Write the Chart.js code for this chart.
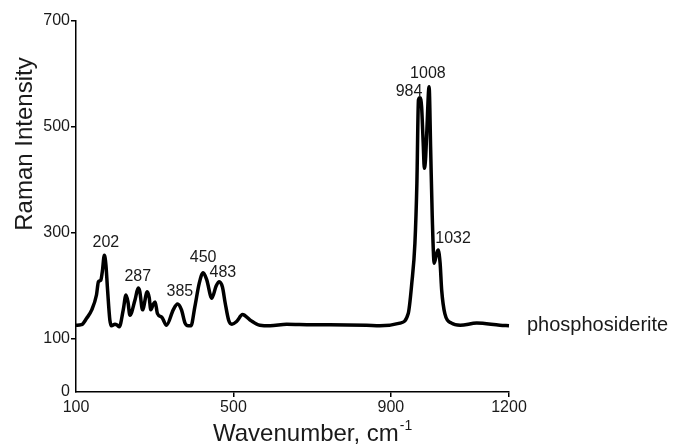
<!DOCTYPE html>
<html>
<head>
<meta charset="utf-8">
<script src="https://cdn.jsdelivr.net/npm/chart.js"></script>
<style>
  html, body { margin: 0; padding: 0; background: #fff; }
  #wrap { width: 675px; height: 444px; position: relative; }
</style>
</head>
<body>
<div id="wrap"><canvas id="spectrum"></canvas></div>
<script>
// Raman spectrum of phosphosiderite
var wavenumbers = [100, 114, 127, 140, 152, 157, 163, 167, 172, 176, 180, 186, 190, 199, 205, 210,
  220, 227, 232, 237, 250, 258, 262, 269, 281, 286, 290, 296, 301, 307, 318, 330, 347, 358, 368,
  377, 385, 392, 402, 413, 423, 432, 445, 456, 464, 472, 479, 488, 496, 508, 523, 542, 567, 593,
  635, 700, 745, 838, 872, 923, 944, 953, 961, 966, 970, 974, 978, 982, 985, 988, 991, 997, 1001,
  1005, 1010, 1016, 1020, 1025, 1029, 1037, 1054, 1076, 1118, 1177, 1200];
var intensities = [126, 127, 139, 155, 183, 208, 211, 228, 258, 240, 195, 136, 125, 128, 126, 123,
  155, 183, 170, 145, 174, 196, 190, 155, 189, 178, 155, 165, 170, 148, 141, 126, 155, 166, 155,
  130, 125, 125, 161, 205, 225, 212, 177, 200, 208, 198, 168, 135, 128, 133, 146, 136, 126, 125,
  128, 127, 127, 126, 125, 130, 148, 205, 281, 394, 551, 555, 538, 470, 422, 440, 488, 576, 457,
  331, 243, 261, 268, 243, 192, 148, 130, 126, 130, 126, 125];

var seriesName = 'phosphosiderite';

// peak annotations (text, and where it sits in data units)
var peakTexts = ['202', '287', '385', '450', '483', '984', '1008', '1032'];
var peakTextX = [176, 257, 364, 423, 473, 946, 994, 1058];
var peakTextY = [281, 217, 189, 253, 225, 566, 600, 289];

var xTicks = [100, 500, 900, 1200];
var yTicks = [0, 100, 300, 500, 700];

var FONT = "'Liberation Sans', Arial, sans-serif";

var points = wavenumbers.map(function(w, i) { return { x: w, y: intensities[i] }; });

var annotate = {
  id: 'annotate',
  afterDraw: function(chart) {
    var ctx = chart.ctx;
    var xs = chart.scales.x, ys = chart.scales.y;
    var area = chart.chartArea;
    ctx.save();
    ctx.fillStyle = '#1a1a1a';

    // peak labels
    ctx.font = '16px ' + FONT;
    ctx.textAlign = 'center';
    ctx.textBaseline = 'middle';
    peakTexts.forEach(function(t, i) {
      ctx.fillText(t, xs.getPixelForValue(peakTextX[i]), ys.getPixelForValue(peakTextY[i]));
    });

    // series name at the end of the trace
    ctx.font = '20px ' + FONT;
    ctx.textAlign = 'left';
    ctx.fillText(seriesName, area.right + 18, ys.getPixelForValue(intensities[intensities.length - 1]));

    // y title
    ctx.save();
    ctx.translate(32, 144);
    ctx.rotate(-Math.PI / 2);
    ctx.font = '24px ' + FONT;
    ctx.textAlign = 'center';
    ctx.textBaseline = 'alphabetic';
    ctx.fillText('Raman Intensity', 0, 0);
    ctx.restore();

    // x title with superscript
    ctx.font = '24px ' + FONT;
    ctx.textAlign = 'left';
    ctx.textBaseline = 'alphabetic';
    var main = 'Wavenumber, cm';
    var x0 = 213, base = 441;
    ctx.fillText(main, x0, base);
    var w = ctx.measureText(main).width;
    ctx.font = '14px ' + FONT;
    ctx.fillText('-1', x0 + w + 1, base - 11);
    ctx.restore();
  }
};

function plain(v) { return String(v); }

new Chart(document.getElementById('spectrum'), {
  type: 'scatter',
  data: {
    datasets: [{
      label: seriesName,
      data: points,
      showLine: true,
      borderColor: '#000',
      borderWidth: 3.5,
      pointRadius: 0,
      tension: 0.4,
      cubicInterpolationMode: 'monotone',
      clip: false
    }]
  },
  options: {
    responsive: true,
    maintainAspectRatio: false,
    animation: false,
    layout: { padding: { left: 0, top: 21, right: 166, bottom: 0 } },
    plugins: {
      legend: { display: false },
      tooltip: { enabled: false }
    },
    scales: {
      x: {
        type: 'linear',
        min: 100,
        max: 1200,
        afterBuildTicks: function(axis) { axis.ticks = xTicks.map(function(v) { return { value: v }; }); },
        afterFit: function(axis) { axis.height = 52; },
        border: { display: true, color: '#000', width: 1.5 },
        grid: {
          drawOnChartArea: false,
          drawTicks: true,
          tickLength: 5,
          lineWidth: 1.5,
          color: function(c) { return c.tick && c.tick.value === 100 ? 'rgba(0,0,0,0)' : '#000'; }
        },
        ticks: {
          autoSkip: false,
          maxRotation: 0,
          padding: 1,
          color: '#1a1a1a',
          font: { family: FONT, size: 16 },
          callback: plain
        }
      },
      y: {
        type: 'linear',
        min: 0,
        max: 700,
        afterBuildTicks: function(axis) { axis.ticks = yTicks.map(function(v) { return { value: v }; }); },
        afterFit: function(axis) { axis.width = 76; },
        border: { display: true, color: '#000', width: 1.5 },
        grid: {
          drawOnChartArea: false,
          drawTicks: true,
          tickLength: 5,
          lineWidth: 1.5,
          color: function(c) { return c.tick && c.tick.value === 0 ? 'rgba(0,0,0,0)' : '#000'; }
        },
        ticks: {
          autoSkip: false,
          padding: 1,
          color: '#1a1a1a',
          font: { family: FONT, size: 16 },
          callback: plain
        }
      }
    }
  },
  plugins: [annotate]
});
</script>
</body>
</html>
